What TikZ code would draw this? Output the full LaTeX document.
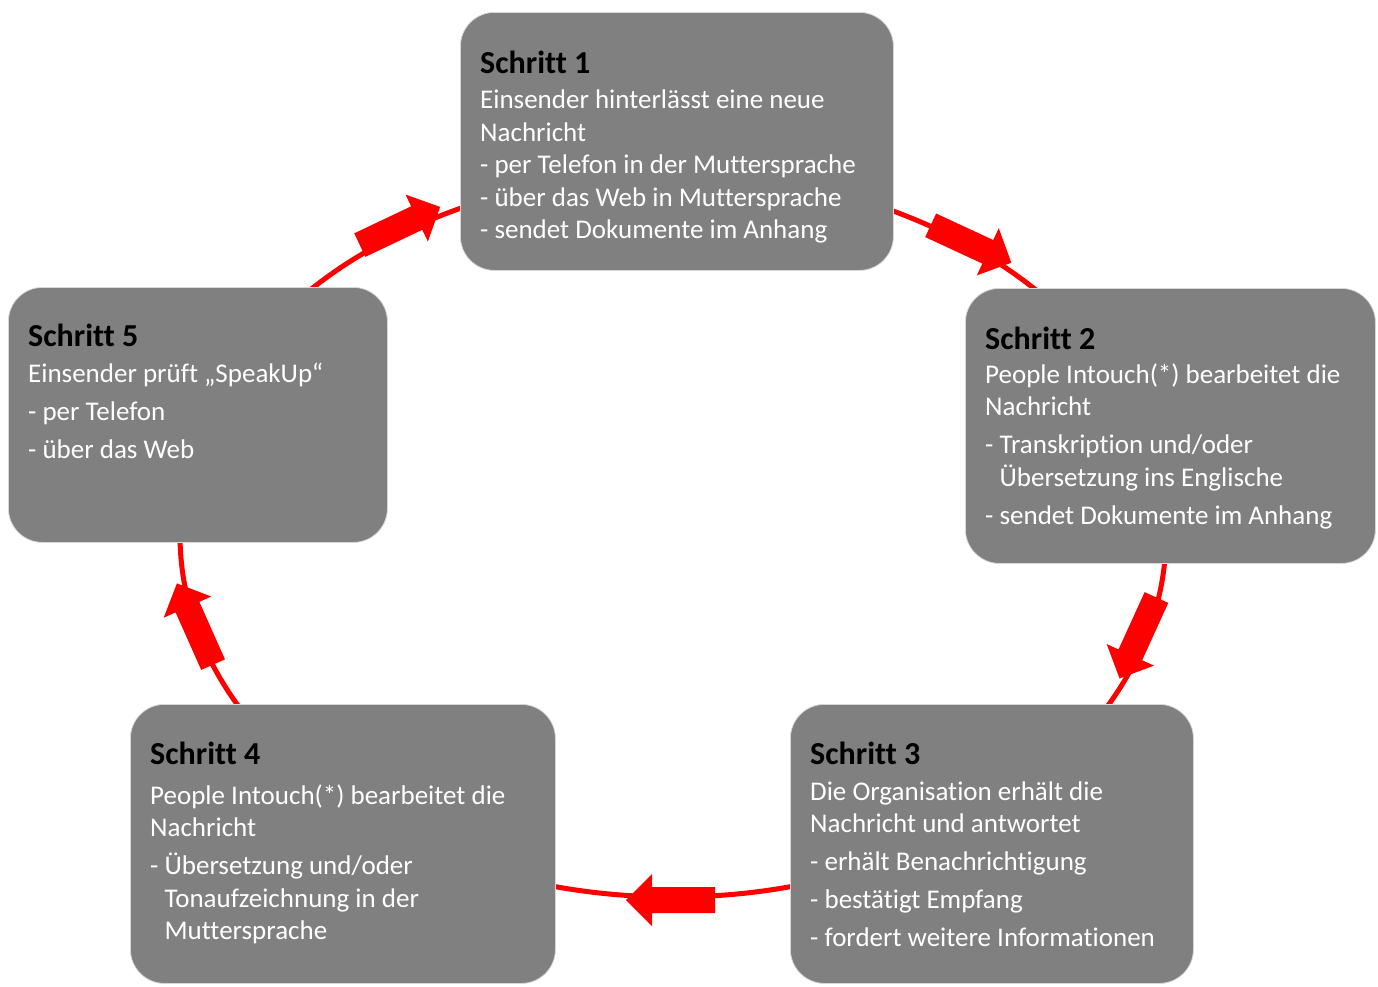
\documentclass[tikz,border=0pt]{standalone}
\usepackage{fontspec}
\setmainfont{Carlito}[Ligatures={TeX,CommonOff}]
\definecolor{boxgray}{RGB}{128,128,128}
\definecolor{boxedge}{RGB}{215,215,215}
\definecolor{cyclered}{RGB}{255,0,0}
\newcommand{\hfnt}{\fontsize{32}{32.5}\selectfont\bfseries\color{black}}
\newcommand{\ind}{\phantom{-\ }}
\tikzset{
  stepbox/.style={draw=boxedge, line width=0.8pt, fill=boxgray, rounded corners=34pt,
    anchor=north west, inner sep=0pt},
  steptext/.style={anchor=base west, inner sep=0pt, text=white,
    font=\fontsize{27}{32.5}\selectfont},
  cycleline/.style={draw=cyclered, line width=5pt},
  barrow/.pic={\fill[cyclered] (-44.5,-13) -- (18.5,-13) -- (18.5,-26) -- (44.5,0)
     -- (18.5,26) -- (18.5,13) -- (-44.5,13) -- cycle;}
}
\begin{document}
\begin{tikzpicture}[x=1pt,y=-1pt]
\useasboundingbox (0,0) rectangle (1378,986);
% cycle line
\draw[cycleline] (673,535) ellipse [x radius=493, y radius=362];
% arrows
\pic[rotate=25.4] at (400,226) {barrow};
\pic[rotate=-24.9] at (971,244) {barrow};
\pic[rotate=-114.5] at (1138,638) {barrow};
\pic[rotate=180] at (670.5,900) {barrow};
\pic[rotate=114] at (195,624) {barrow};
% boxes
\node[stepbox, minimum width=433pt, minimum height=258pt] (b1) at (460,12) {};
\node[stepbox, minimum width=410pt, minimum height=275pt] (b2) at (965,288) {};
\node[stepbox, minimum width=403pt, minimum height=279pt] (b3) at (790,704) {};
\node[stepbox, minimum width=425pt, minimum height=279pt] (b4) at (130,704) {};
\node[stepbox, minimum width=379pt, minimum height=255pt] (b5) at (8,287) {};
% texts
\node[steptext] (t1) at (480,51) {\parbox[t]{420pt}{{\hfnt Schritt 1}\\[3pt]
Einsender hinterlässt eine neue\\
Nachricht\\
- per Telefon in der Muttersprache\\
- über das Web in Muttersprache\\
- sendet Dokumente im Anhang}};
\node[steptext] (t2) at (985,327) {\parbox[t]{420pt}{{\hfnt Schritt 2}\\[1.5pt]
People Intouch(*) bearbeitet die\\
Nachricht\\[5.5pt]
- Transkription und/oder\\
\ind Übersetzung ins Englische\\[5.5pt]
- sendet Dokumente im Anhang}};
\node[steptext] (t3) at (810,742) {\parbox[t]{420pt}{{\hfnt Schritt 3}\\[3.5pt]
Die Organisation erhält die\\
Nachricht und antwortet\\[5.5pt]
- erhält Benachrichtigung\\[5.5pt]
- bestätigt Empfang\\[5.5pt]
- fordert weitere Informationen}};
\node[steptext] (t4) at (150,742) {\parbox[t]{420pt}{{\hfnt Schritt 4}\\[7.5pt]
People Intouch(*) bearbeitet die\\
Nachricht\\[5.5pt]
- Übersetzung und/oder\\
\ind Tonaufzeichnung in der\\
\ind Muttersprache}};
\node[steptext] (t5) at (28,324) {\parbox[t]{420pt}{{\hfnt Schritt 5}\\[3.5pt]
Einsender prüft „SpeakUp“\\[5.5pt]
- per Telefon\\[5.5pt]
- über das Web}};
\end{tikzpicture}
\end{document}
